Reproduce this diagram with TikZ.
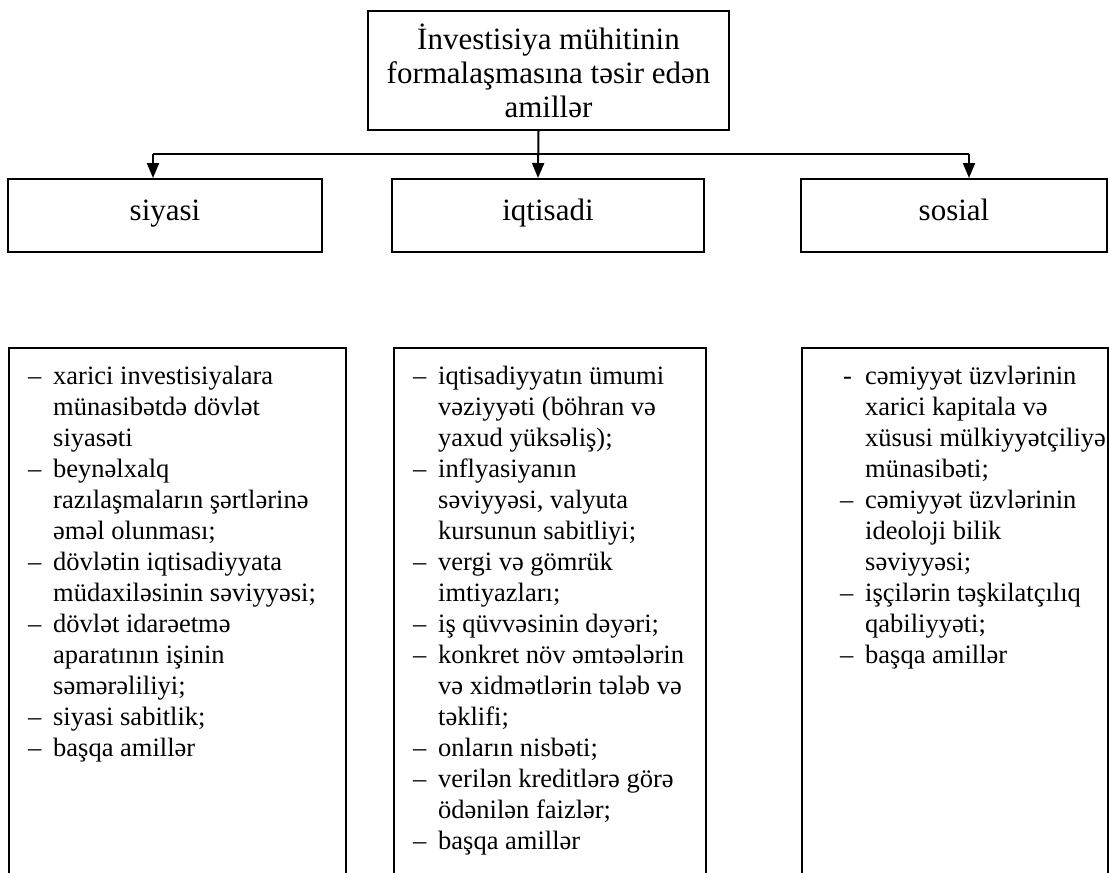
\documentclass[tikz,border=0pt]{standalone}
\usepackage{fontspec}
\setmainfont{Liberation Serif}
\usetikzlibrary{arrows.meta}
\newcommand{\dsh}{\makebox[25pt][l]{–}}
\newcommand{\hyp}{\makebox[25pt][l]{\hspace{3pt}-}}
\newcommand{\ind}{\hspace*{25pt}}
\begin{document}
\begin{tikzpicture}[x=1pt,y=-1pt,
  box/.style={draw, line width=2pt, inner sep=0pt},
  head/.style={font=\fontsize{31}{34}\selectfont},
  mid/.style={box, head, minimum height=73pt, text height=21pt, text depth=12pt},
  body/.style={anchor=base west, inner sep=0pt, font=\fontsize{26.5}{31}\selectfont},
  conn/.style={line width=1.7pt},
  arr/.style={line width=2pt, -{Triangle[length=15pt,width=12pt]}}]
\clip (0,0) rectangle (1109,873);
\fill[white] (0,0) rectangle (1109,873);

\node[box, head, align=center, minimum width=361pt, minimum height=119pt] (top) at (548.5,70.5)
  {İnvestisiya mühitinin\\formalaşmasına təsir edən\\amillər};

\node[mid, minimum width=314pt] (si) at (165,215.5) {siyasi};
\node[mid, minimum width=312pt] (iq) at (548,215.5) {iqtisadi};
\node[mid, minimum width=306pt] (so) at (954,215.5) {sosial};

\coordinate (hl) at (153,154);
\coordinate (hr) at (969,154);
\draw[conn] (hl) -- (hr);
\draw[arr] (hl) -- (hl |- si.north);
\draw[arr] (hr) -- (hr |- so.north);
\draw[arr] ([xshift=-10pt]top.south) -- ([xshift=-10pt]iq.north);

\node[box, anchor=north west, minimum width=337pt, minimum height=560pt] (pb) at (8,347) {};
\node[box, anchor=north west, minimum width=312pt, minimum height=560pt] (ib) at (393,347) {};
\node[box, anchor=north west, minimum width=306pt, minimum height=560pt] (sb) at (801,347) {};

\node[body] (pt) at (28,384) {\begin{tabular}[t]{@{}l@{}}
\dsh xarici investisiyalara\\
\ind münasibətdə dövlət\\
\ind siyasəti\\
\dsh beynəlxalq\\
\ind razılaşmaların şərtlərinə\\
\ind əməl olunması;\\
\dsh dövlətin iqtisadiyyata\\
\ind müdaxiləsinin səviyyəsi;\\
\dsh dövlət idarəetmə\\
\ind aparatının işinin\\
\ind səmərəliliyi;\\
\dsh siyasi sabitlik;\\
\dsh başqa amillər
\end{tabular}};

\node[body] (it) at (413,384) {\begin{tabular}[t]{@{}l@{}}
\dsh iqtisadiyyatın ümumi\\
\ind vəziyyəti (böhran və\\
\ind yaxud yüksəliş);\\
\dsh inflyasiyanın\\
\ind səviyyəsi, valyuta\\
\ind kursunun sabitliyi;\\
\dsh vergi və gömrük\\
\ind imtiyazları;\\
\dsh iş qüvvəsinin dəyəri;\\
\dsh konkret növ əmtəələrin\\
\ind və xidmətlərin tələb və\\
\ind təklifi;\\
\dsh onların nisbəti;\\
\dsh verilən kreditlərə görə\\
\ind ödənilən faizlər;\\
\dsh başqa amillər
\end{tabular}};

\node[body] (st) at (840,384) {\begin{tabular}[t]{@{}l@{}}
\hyp cəmiyyət üzvlərinin\\
\ind xarici kapitala və\\
\ind xüsusi mülkiyyətçiliyə\\
\ind münasibəti;\\
\dsh cəmiyyət üzvlərinin\\
\ind ideoloji bilik\\
\ind səviyyəsi;\\
\dsh işçilərin təşkilatçılıq\\
\ind qabiliyyəti;\\
\dsh başqa amillər
\end{tabular}};
\end{tikzpicture}
\end{document}
